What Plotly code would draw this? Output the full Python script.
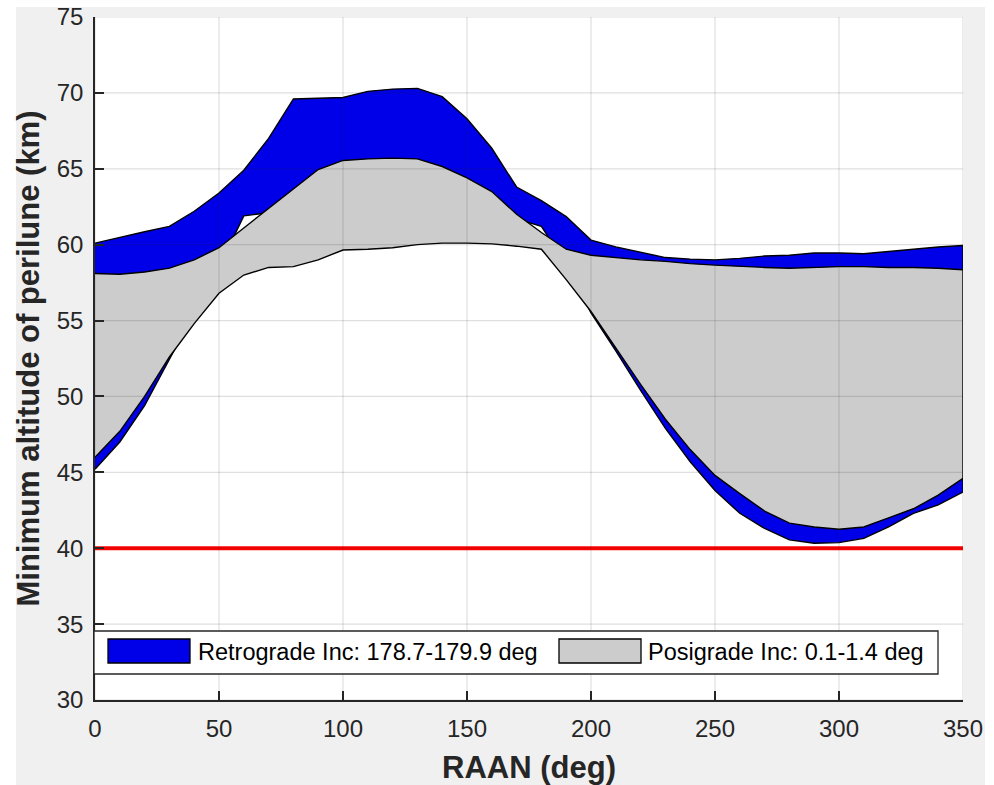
import plotly.graph_objects as go

# ---------------- data ----------------
raan = [0, 10, 20, 30, 40, 50, 60, 70, 80, 90, 100, 110, 120, 130, 140, 150, 160, 170,
        180, 190, 200, 210, 220, 230, 240, 250, 260, 270, 280, 290, 300, 310, 320, 330, 340, 350]

retro_hi = [60.1, 60.5, 60.85, 61.2, 62.2, 63.4, 64.9, 67.0, 69.6, 69.65, 69.7, 70.1, 70.25, 70.3,
            69.75, 68.3, 66.35, 63.8, 62.9, 61.85, 60.3, 59.85, 59.5, 59.15, 59.05, 59.0, 59.1,
            59.25, 59.3, 59.45, 59.45, 59.4, 59.55, 59.7, 59.85, 59.95]
retro_lo = [45.2, 47.0, 49.4, 52.5, 55.5, 58.5, 61.9, 62.1, 62.5, 63.0, 63.0, 63.0, 63.0, 63.0,
            62.8, 62.5, 62.3, 61.7, 61.2, 58.7, 55.5, 53.0, 50.4, 47.9, 45.7, 43.8, 42.3,
            41.3, 40.55, 40.33, 40.37, 40.65, 41.4, 42.3, 42.85, 43.7]

posi_hi = [58.1, 58.05, 58.2, 58.45, 59.0, 59.8, 61.1, 62.4, 63.7, 64.95, 65.55, 65.65, 65.7, 65.65,
           65.15, 64.4, 63.5, 62.0, 60.8, 59.7, 59.3, 59.15, 59.0, 58.9, 58.75, 58.65, 58.55,
           58.5, 58.45, 58.5, 58.55, 58.55, 58.5, 58.5, 58.45, 58.35]
posi_lo = [46.0, 47.7, 50.0, 52.6, 54.8, 56.8, 58.0, 58.5, 58.55, 59.0, 59.65, 59.7, 59.8, 60.0,
           60.1, 60.1, 60.05, 59.9, 59.7, 57.7, 55.6, 53.2, 50.8, 48.5, 46.5, 44.8, 43.6,
           42.45, 41.65, 41.4, 41.25, 41.4, 42.0, 42.6, 43.5, 44.6]

limit_alt = 40

x_ticks = [0, 50, 100, 150, 200, 250, 300, 350]
y_ticks = [30, 35, 40, 45, 50, 55, 60, 65, 70, 75]

retro_label = "Retrograde Inc: 178.7-179.9 deg"
posi_label = "Posigrade Inc: 0.1-1.4 deg"
x_title = "RAAN (deg)"
y_title = "Minimum altitude of perilune (km)"

# ---------------- styling ----------------
BLUE = "#0000e8"
GRAY = "#cccccc"
AXC = "#262626"
GRID = "rgba(38,38,38,0.15)"
FONT = "Liberation Sans, Arial, sans-serif"

W, H = 994, 785
ML, MR, MT, MB = 95, 31, 17, 85
PW, PH = W - ML - MR, H - MT - MB


def px(v):
    return (v - ML) / PW


def py(v):
    return (H - MB - v) / PH


fig = go.Figure()

fig.add_trace(go.Scatter(
    x=raan + raan[::-1], y=retro_hi + retro_lo[::-1],
    mode="lines", fill="toself", fillcolor=BLUE,
    line=dict(color="black", width=1.4), name=retro_label, showlegend=False,
    hoverinfo="skip"))
fig.add_trace(go.Scatter(
    x=raan + raan[::-1], y=posi_hi + posi_lo[::-1],
    mode="lines", fill="toself", fillcolor=GRAY,
    line=dict(color="black", width=1.4), name=posi_label, showlegend=False,
    hoverinfo="skip"))
fig.add_trace(go.Scatter(
    x=[raan[0], raan[-1]], y=[limit_alt, limit_alt],
    mode="lines", line=dict(color="#ff0000", width=4), showlegend=False,
    hoverinfo="skip"))

shapes = []
# white outer strips (figure border of the original image)
shapes.append(dict(type="rect", xref="paper", yref="paper", layer="below",
                   x0=px(0), x1=px(16), y0=py(H), y1=py(0),
                   fillcolor="white", line=dict(width=0)))
shapes.append(dict(type="rect", xref="paper", yref="paper", layer="below",
                   x0=px(0), x1=px(W), y0=py(7), y1=py(0),
                   fillcolor="white", line=dict(width=0)))
shapes.append(dict(type="rect", xref="paper", yref="paper", layer="below",
                   x0=px(985), x1=px(W), y0=py(H), y1=py(0),
                   fillcolor="white", line=dict(width=0)))
# grid drawn above the patches (as in the original)
for xv in x_ticks:
    shapes.append(dict(type="line", xref="x", yref="y", layer="above",
                       x0=xv, x1=xv, y0=y_ticks[0], y1=y_ticks[-1],
                       line=dict(color=GRID, width=1.2)))
for yv in y_ticks:
    shapes.append(dict(type="line", xref="x", yref="y", layer="above",
                       x0=x_ticks[0], x1=x_ticks[-1], y0=yv, y1=yv,
                       line=dict(color=GRID, width=1.2)))
# legend box
shapes.append(dict(type="rect", xref="paper", yref="paper", layer="above",
                   x0=px(94), x1=px(938), y0=py(674), y1=py(631),
                   fillcolor="white", line=dict(color=AXC, width=1.3)))
shapes.append(dict(type="rect", xref="paper", yref="paper", layer="above",
                   x0=px(108), x1=px(190), y0=py(663), y1=py(639),
                   fillcolor=BLUE, line=dict(color="black", width=1.3)))
shapes.append(dict(type="rect", xref="paper", yref="paper", layer="above",
                   x0=px(559), x1=px(641), y0=py(663), y1=py(639),
                   fillcolor=GRAY, line=dict(color="black", width=1.3)))

annotations = [
    dict(xref="paper", yref="paper", x=px(196), y=py(652), xanchor="left", yanchor="middle",
         text=retro_label, showarrow=False, font=dict(family=FONT, size=23.5, color="black")),
    dict(xref="paper", yref="paper", x=px(646), y=py(652), xanchor="left", yanchor="middle",
         text=posi_label, showarrow=False, font=dict(family=FONT, size=23.5, color="black")),
]

fig.update_layout(
    width=W, height=H,
    margin=dict(l=ML, r=MR, t=MT, b=MB, pad=0, autoexpand=False),
    paper_bgcolor="#f0f0f0", plot_bgcolor="white",
    shapes=shapes, annotations=annotations,
    showlegend=False,
    font=dict(family=FONT, color=AXC),
)
fig.update_xaxes(
    automargin=False,
    range=[x_ticks[0], x_ticks[-1]], tickvals=x_ticks, showgrid=False, zeroline=False,
    showline=True, linecolor=AXC, linewidth=1.5, ticks="inside", ticklen=9,
    tickwidth=1.5, tickcolor=AXC, tickfont=dict(family=FONT, size=24, color=AXC),
    ticklabelstandoff=6,
    title=dict(text=f"<b>{x_title}</b>", font=dict(family=FONT, size=31, color=AXC), standoff=20),
)
fig.update_yaxes(
    automargin=False,
    range=[y_ticks[0], y_ticks[-1]], tickvals=y_ticks, showgrid=False, zeroline=False,
    showline=True, linecolor=AXC, linewidth=1.5, ticks="inside", ticklen=9,
    tickwidth=1.5, tickcolor=AXC, tickfont=dict(family=FONT, size=24, color=AXC),
    ticklabelstandoff=5,
    title=dict(text=f"<b>{y_title}</b>", font=dict(family=FONT, size=31, color=AXC), standoff=8),
)

fig.write_html("out.html", config={"displayModeBar": False})
